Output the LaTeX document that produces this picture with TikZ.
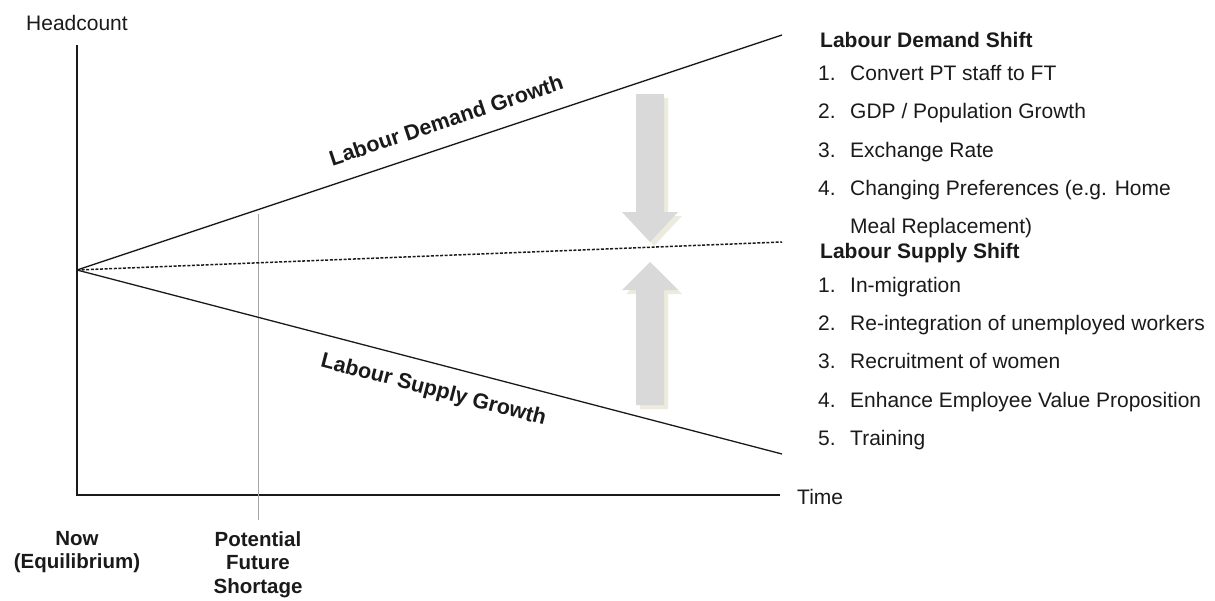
\documentclass[tikz,border=0pt]{standalone}
\usepackage{fontspec}
\setmainfont{Liberation Sans}
\definecolor{ink}{HTML}{1A1A1A}
\definecolor{arrowgray}{HTML}{D9D9D9}
\definecolor{shadowbeige}{HTML}{ECEBDD}
\definecolor{guide}{HTML}{A6A6A6}
\begin{document}
\begin{tikzpicture}[x=1pt,y=-1pt,
  lbl/.style={font=\fontsize{21}{25}\selectfont, text=ink, inner sep=0pt},
  bold/.style={lbl, font=\fontsize{21}{25}\selectfont\bfseries},
  bottomlbl/.style={font=\fontsize{20.5}{23.5}\selectfont\bfseries, text=ink, inner sep=0pt, align=center},
  slopedlbl/.style={inner sep=0pt, font=\fontsize{21.5}{25}\selectfont\bfseries, text=ink},
  axisline/.style={draw=ink, line width=2pt},
  trend/.style={draw=ink, line width=1.3pt},
  eqline/.style={draw=ink, line width=1.5pt, dash pattern=on 3pt off 1.6pt},
  guideline/.style={draw=guide, line width=0.9pt},
  bigarrow/.style={fill=arrowgray, draw=none},
  arrowshadow/.style={fill=shadowbeige, draw=none}]
\useasboundingbox (0,0) rectangle (1215,600);

% coordinates
\coordinate (Ytop) at (77,45);
\coordinate (C) at (77,495);
\coordinate (Xend) at (780,495);
\coordinate (O) at (77,270);
\coordinate (D) at (782,35);
\coordinate (S) at (782,454);
\coordinate (E) at (782,242);
\coordinate (Gtop) at (258,214);
\coordinate (Gbot) at (258,520);

% axes
\draw[axisline] (Ytop) -- (C) -- (Xend);
\node[lbl, anchor=base west] (ylab) at (26,30) {Headcount};
\node[lbl, anchor=west] (xlab) at (797,497) {Time};

% guide line
\draw[guideline] (Gtop) -- (Gbot);

% trend lines
\draw[trend] (O) -- (D) node[pos=0.535, sloped, above=17pt, slopedlbl] (dg) {Labour Demand Growth};
\draw[trend] (O) -- (S) node[pos=0.515, sloped, below=16pt, slopedlbl] (sg) {Labour Supply Growth};
\draw[eqline] (O) -- (E);

% big arrows with shadows
\fill[arrowshadow] (640,98) -- (668,98) -- (668,216) -- (682,216) -- (654,246) -- (626,216) -- (640,216) -- cycle;
\fill[bigarrow] (636,94) -- (664,94) -- (664,212) -- (678,212) -- (650,242) -- (622,212) -- (636,212) -- cycle;
\fill[arrowshadow] (654,266) -- (682,294) -- (668,294) -- (668,409) -- (640,409) -- (640,294) -- (626,294) -- cycle;
\fill[bigarrow] (650,262) -- (678,290) -- (664,290) -- (664,405) -- (636,405) -- (636,290) -- (622,290) -- cycle;

% bottom labels
\node[bottomlbl, anchor=north] (now) at (77,531) {Now\\(Equilibrium)};
\node[bottomlbl, anchor=north] (pfs) at (258,531) {Potential\\Future\\Shortage};

% right-hand lists
\node[bold, anchor=base west] (dh) at (820,47) {Labour Demand Shift};
\node[lbl, anchor=base west] (d1) at (818,80) {\makebox[32pt][l]{1.}Convert PT staff to FT};
\node[lbl, anchor=base west] (d2) at (818,118) {\makebox[32pt][l]{2.}GDP / Population Growth};
\node[lbl, anchor=base west] (d3) at (818,157) {\makebox[32pt][l]{3.}Exchange Rate};
\node[lbl, anchor=base west] (d4) at (818,195) {\makebox[32pt][l]{4.}Changing Preferences (e.g. Home};
\node[lbl, anchor=base west] (d4b) at (850,233) {Meal Replacement)};

\node[bold, anchor=base west] (sh) at (820,258) {Labour Supply Shift};
\node[lbl, anchor=base west] (s1) at (818,292) {\makebox[32pt][l]{1.}In-migration};
\node[lbl, anchor=base west] (s2) at (818,330) {\makebox[32pt][l]{2.}Re-integration of unemployed workers};
\node[lbl, anchor=base west] (s3) at (818,368) {\makebox[32pt][l]{3.}Recruitment of women};
\node[lbl, anchor=base west] (s4) at (818,407) {\makebox[32pt][l]{4.}Enhance Employee Value Proposition};
\node[lbl, anchor=base west] (s5) at (818,445) {\makebox[32pt][l]{5.}Training};
\end{tikzpicture}
\end{document}
